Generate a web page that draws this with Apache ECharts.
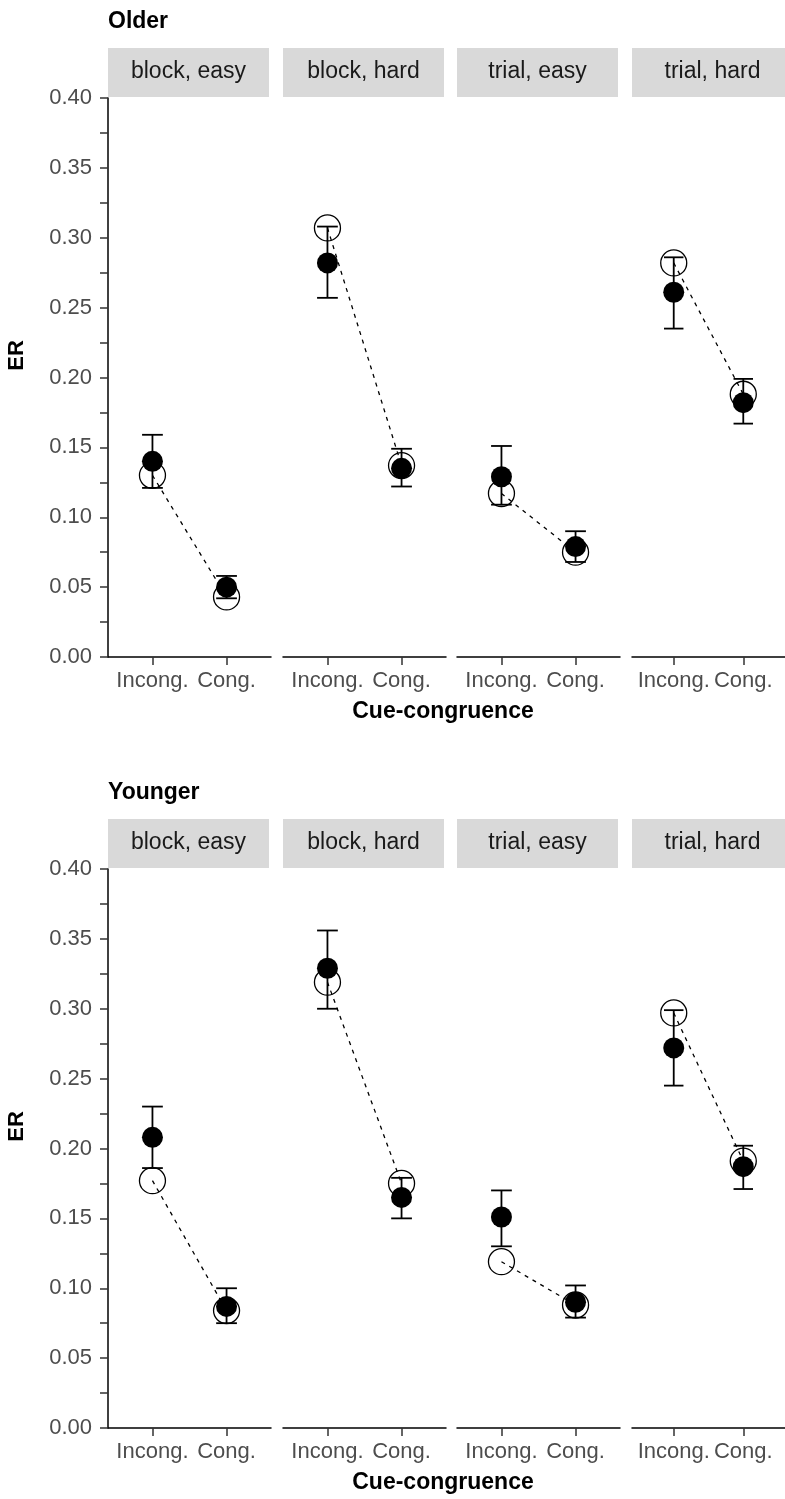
<!DOCTYPE html>
<html>
<head>
<meta charset="utf-8">
<script src="https://cdn.jsdelivr.net/npm/echarts@6/dist/echarts.min.js"></script>
<style>
  html, body { margin: 0; padding: 0; background: #ffffff; }
  #chart { width: 785px; height: 1499px; }
</style>
</head>
<body>
<div id="chart"></div>
<script>
// Age groups (one block of facets each), cue/difficulty facets and x categories
const groups = ['Older', 'Younger'];
const facets = ['block, easy', 'block, hard', 'trial, easy', 'trial, hard'];
const cues = ['Incong.', 'Cong.'];
const yTickLabels = ['0.00', '0.05', '0.10', '0.15', '0.20', '0.25', '0.30', '0.35', '0.40'];

// Observed error rates (filled points): one [Incong., Cong.] pair per facet
const olderObserved = [[0.140, 0.050], [0.282, 0.135], [0.129, 0.079], [0.261, 0.182]];
const olderLower    = [[0.121, 0.042], [0.257, 0.122], [0.109, 0.068], [0.235, 0.167]];
const olderUpper    = [[0.159, 0.058], [0.308, 0.149], [0.151, 0.090], [0.286, 0.199]];
// Model predictions (open points joined by the dashed line)
const olderModel    = [[0.130, 0.043], [0.307, 0.137], [0.117, 0.075], [0.282, 0.188]];

const youngerObserved = [[0.208, 0.087], [0.329, 0.165], [0.151, 0.090], [0.272, 0.187]];
const youngerLower    = [[0.186, 0.075], [0.300, 0.150], [0.130, 0.079], [0.245, 0.171]];
const youngerUpper    = [[0.230, 0.100], [0.356, 0.179], [0.170, 0.102], [0.299, 0.202]];
const youngerModel    = [[0.177, 0.084], [0.319, 0.175], [0.119, 0.088], [0.297, 0.191]];

const observed = [olderObserved, youngerObserved];
const lower = [olderLower, youngerLower];
const upper = [olderUpper, youngerUpper];
const model = [olderModel, youngerModel];

// Layout
const FONT = '"Liberation Sans", Arial, sans-serif';
const PANEL_TOP = [98, 869];      // pixel row of the 0.40 level in each block
const PANEL_H = 559;
const FACET_LEFT = [108, 283, 457, 632];
const FACET_W = 163;
const STRIP_H = 49;
const CAP = 0.28;                 // error-bar cap width in x units

const grids = [], xAxes = [], yAxes = [], series = [], graphics = [];

function label(text, x, y, font, fill, align, rotation) {
  return {
    type: 'text', x: x, y: y, rotation: rotation || 0, silent: true,
    style: { text: text, font: font, fill: fill,
             textAlign: align, textVerticalAlign: 'middle', align: align, verticalAlign: 'middle' }
  };
}

groups.forEach((gName, g) => {
  const top = PANEL_TOP[g];

  graphics.push(label(gName, FACET_LEFT[0], top - 76, 'bold 23px ' + FONT, '#000', 'left'));
  graphics.push(label('ER', 17, top + PANEL_H / 2 - 22, 'bold 22px ' + FONT, '#000', 'center', Math.PI / 2));
  graphics.push(label('Cue-congruence', 443, top + PANEL_H + 55, 'bold 23px ' + FONT, '#000', 'center'));

  facets.forEach((fName, f) => {
    const idx = g * facets.length + f;
    const left = FACET_LEFT[f];

    // facet strip
    graphics.push({
      type: 'rect', silent: true,
      shape: { x: left, y: top - STRIP_H - 1, width: FACET_W - 2, height: STRIP_H },
      style: { fill: '#D9D9D9' }
    });
    graphics.push(label(fName, left + (FACET_W - 2) / 2, top - STRIP_H / 2 - 2, '23px ' + FONT, '#1A1A1A', 'center'));

    grids.push({ left: left, top: top, width: FACET_W, height: PANEL_H });

    xAxes.push({
      gridIndex: idx, type: 'value', min: 0.4, max: 2.6,
      axisLine: { show: true, onZero: false, lineStyle: { color: '#000', width: 1.5 } },
      axisTick: { show: true, customValues: [1, 2], length: 8, lineStyle: { color: '#333', width: 1.5 } },
      axisLabel: { show: true, customValues: [1, 2], margin: 13, fontSize: 22, fontFamily: FONT, color: '#4D4D4D',
                   formatter: v => cues[Math.round(v) - 1] },
      splitLine: { show: false }
    });

    yAxes.push({
      gridIndex: idx, type: 'value', min: 0, max: 0.4, interval: 0.025, show: f === 0,
      axisLine: { show: true, lineStyle: { color: '#000', width: 1.5 } },
      axisTick: { show: true, length: 8, lineStyle: { color: '#333', width: 1.5 } },
      axisLabel: {
        margin: 16, fontSize: 22, fontFamily: FONT, color: '#4D4D4D',
        formatter: v => {
          const k = Math.round(v * 1000);
          return k % 50 === 0 ? yTickLabels[k / 50] : '';
        }
      },
      splitLine: { show: false }
    });

    const modelPts = cues.map((c, i) => [i + 1, model[g][f][i]]);
    const obsPts = cues.map((c, i) => [i + 1, observed[g][f][i]]);
    const barPts = cues.map((c, i) => [i + 1, lower[g][f][i], upper[g][f][i]]);

    // dashed line through model predictions
    series.push({
      type: 'line', xAxisIndex: idx, yAxisIndex: idx, data: modelPts,
      symbol: 'none', z: 2, silent: true,
      lineStyle: { color: '#000', width: 1.3, type: [4, 5] }
    });
    // open circles: model predictions
    series.push({
      type: 'scatter', xAxisIndex: idx, yAxisIndex: idx, data: modelPts,
      symbol: 'circle', symbolSize: 26, z: 3, silent: true,
      itemStyle: { color: 'rgba(0,0,0,0)', borderColor: '#000', borderWidth: 1.3, opacity: 1 }
    });
    // error bars around observed means
    series.push({
      type: 'custom', xAxisIndex: idx, yAxisIndex: idx, data: barPts, z: 4, silent: true,
      encode: { x: 0, y: [1, 2] },
      renderItem: (params, api) => {
        const x = api.value(0);
        const lo = api.coord([x, api.value(1)]);
        const hi = api.coord([x, api.value(2)]);
        const half = api.size([CAP, 0])[0] / 2;
        const st = { stroke: '#000', lineWidth: 1.8 };
        return {
          type: 'group',
          children: [
            { type: 'line', shape: { x1: lo[0], y1: lo[1], x2: hi[0], y2: hi[1] }, style: st },
            { type: 'line', shape: { x1: hi[0] - half, y1: hi[1], x2: hi[0] + half, y2: hi[1] }, style: st },
            { type: 'line', shape: { x1: lo[0] - half, y1: lo[1], x2: lo[0] + half, y2: lo[1] }, style: st }
          ]
        };
      }
    });
    // filled circles: observed means
    series.push({
      type: 'scatter', xAxisIndex: idx, yAxisIndex: idx, data: obsPts,
      symbol: 'circle', symbolSize: 21, z: 5, silent: true,
      itemStyle: { color: '#000', opacity: 1 }
    });
  });
});

const chart = echarts.init(document.getElementById('chart'), null, { renderer: 'canvas' });
chart.setOption({
  animation: false,
  backgroundColor: '#ffffff',
  textStyle: { fontFamily: FONT },
  grid: grids,
  xAxis: xAxes,
  yAxis: yAxes,
  series: series,
  graphic: graphics
});
</script>
</body>
</html>
